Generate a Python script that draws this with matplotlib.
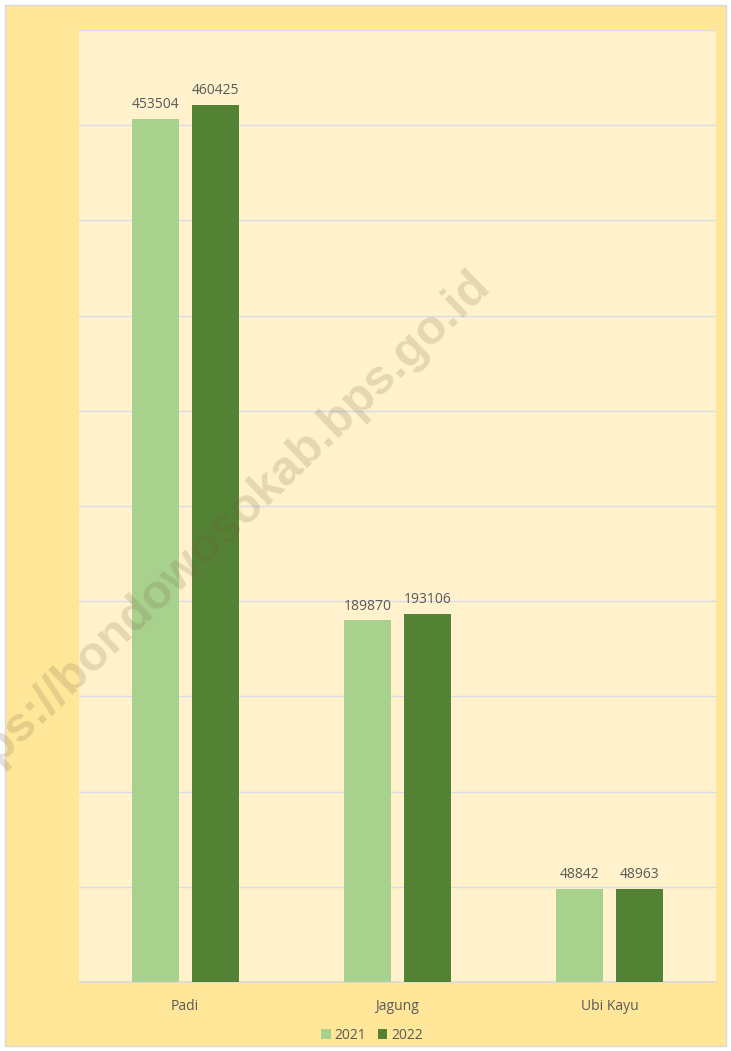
import matplotlib
matplotlib.use("Agg")
import matplotlib.pyplot as plt
import numpy as np
from matplotlib.patches import Rectangle

plt.rcParams['font.family'] = ['Open Sans', 'DejaVu Sans']

categories = ["Padi", "Jagung", "Ubi Kayu"]
years = ["2021", "2022"]
values_2021 = [453504, 189870, 48842]
values_2022 = [460425, 193106, 48963]

fig = plt.figure(figsize=(7.31, 10.51), dpi=100)
fig.patch.set_facecolor("white")
# outer chart area with thin border
fig.patches.append(Rectangle((5 / 731, 5 / 1051), 721 / 731, 1041 / 1051,
                             transform=fig.transFigure, facecolor="#FFE699",
                             edgecolor="#D9D9D9", linewidth=1, zorder=-10))

ax = fig.add_axes([79 / 731, 1 - 982 / 1051, 637 / 731, 952 / 1051])
ax.set_facecolor("#FFF2CC")

ind = np.arange(len(categories))
width = 0.221
off = 0.141
b1 = ax.bar(ind - off, values_2021, width, color="#A9D18E", label=years[0], zorder=3)
b2 = ax.bar(ind + off, values_2022, width, color="#548235", label=years[1], zorder=3)

for bars in (b1, b2):
    for r in bars:
        ax.annotate(str(int(r.get_height())), (r.get_x() + r.get_width() / 2, r.get_height()),
                    xytext=(0, 5), textcoords="offset points", ha="center", va="bottom",
                    fontsize=10, color="#595959")

ax.set_xlim(-0.5, 2.5)
ax.set_ylim(0, 500000)
ax.set_yticks(np.arange(50000, 500001, 50000))
ax.yaxis.grid(True, color="#D9DCE6", linewidth=1)
ax.set_axisbelow(True)
ax.tick_params(axis="y", left=False, labelleft=False)
ax.tick_params(axis="x", length=0, pad=12, labelsize=10, labelcolor="#595959")
ax.set_xticks(ind)
ax.set_xticklabels(categories)
for s in ["top", "left", "right"]:
    ax.spines[s].set_visible(False)
ax.spines["bottom"].set_color("#D9D9D9")
ax.spines["bottom"].set_linewidth(1.2)

leg = ax.legend(loc="upper center", bbox_to_anchor=(0.46, -0.035), ncol=2, frameon=False,
                fontsize=10, handlelength=0.7, handleheight=0.7, handletextpad=0.3,
                columnspacing=0.8)
for t in leg.get_texts():
    t.set_color("#595959")

# watermark
fig.text(214 / 731, 1 - 538 / 1051, "https://bondowosokab.bps.go.id", rotation=44,
         ha="center", va="center", fontsize=35, fontweight="bold",
         color="#6B5A3A", alpha=0.18, family=["Liberation Sans", "DejaVu Sans"])

fig.savefig("out.png", dpi=100, facecolor=fig.get_facecolor())
